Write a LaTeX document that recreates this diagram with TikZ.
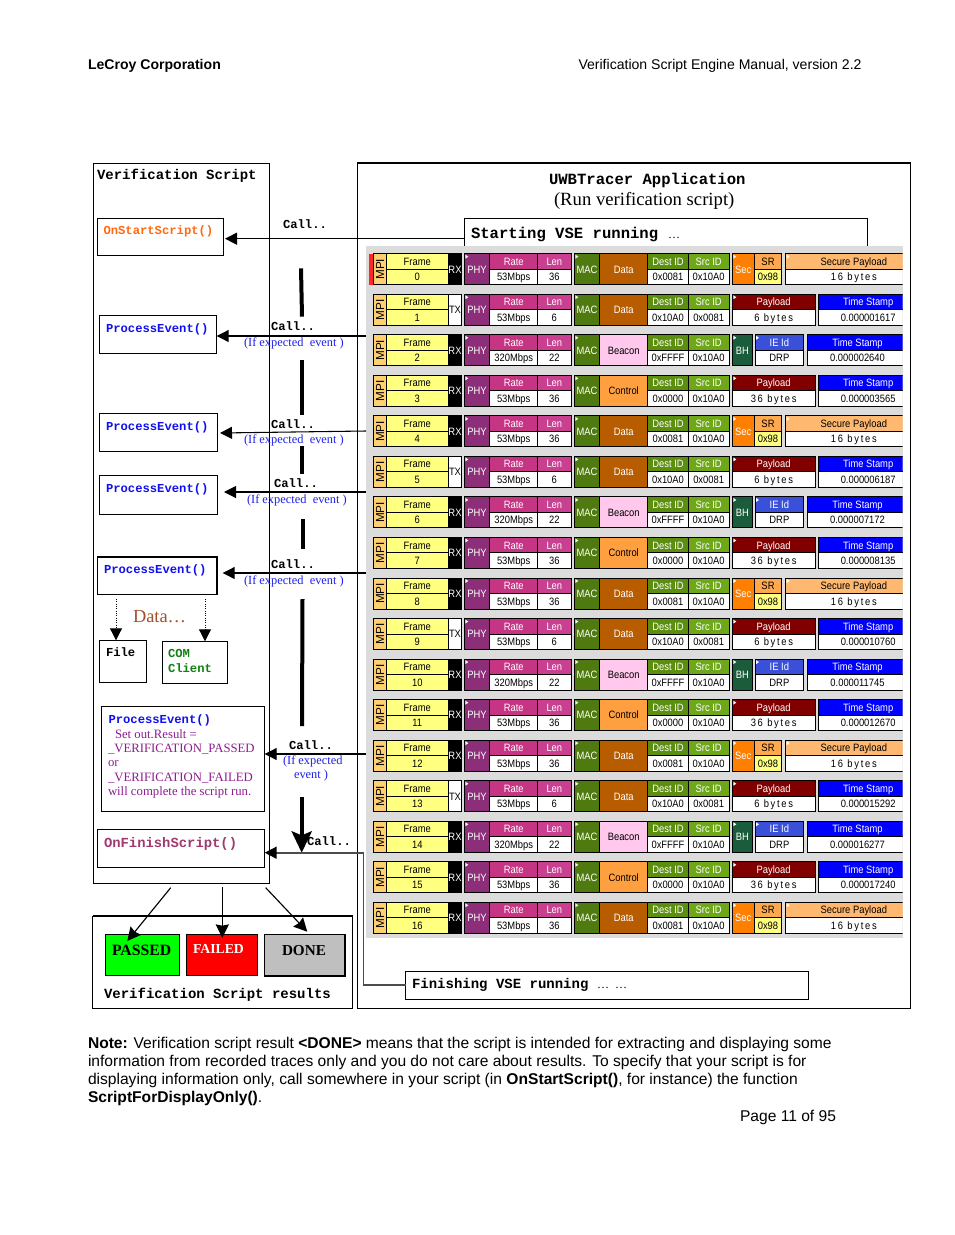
\documentclass[tikz,border=0pt]{standalone}
\usepackage{fontspec}
\setmainfont{Liberation Serif}
\setsansfont{Liberation Sans}
\setmonofont{Liberation Mono}
\newfontfamily\cellfam[FakeStretch=0.88]{Liberation Sans}
\usetikzlibrary{arrows.meta}
\definecolor{cMPI}{HTML}{FFD070}
\definecolor{cFrame}{HTML}{FFFF80}
\definecolor{cPHY}{HTML}{8C2F78}
\definecolor{cRate}{HTML}{C63484}
\definecolor{cLen}{HTML}{C8408F}
\definecolor{cMAC}{HTML}{4F7A10}
\definecolor{cData}{HTML}{B85C00}
\definecolor{cCtrl}{HTML}{FFA040}
\definecolor{cBeac}{HTML}{FFC8EC}
\definecolor{cDest}{HTML}{5C8E10}
\definecolor{cSrc}{HTML}{6EA818}
\definecolor{cSec}{HTML}{FF8000}
\definecolor{cSR}{HTML}{FFA84D}
\definecolor{cSP}{HTML}{FFB870}
\definecolor{cBH}{HTML}{1A5C3C}
\definecolor{cIE}{HTML}{3A50D8}
\definecolor{cPanel}{HTML}{DCDCDC}
\definecolor{cOnStart}{HTML}{FF6A10}
\definecolor{cPE}{HTML}{1010F0}
\definecolor{cFin}{HTML}{A0396E}
\definecolor{cPurple}{HTML}{8E1C8E}
\definecolor{cIf}{HTML}{2020E8}
\definecolor{cBrown}{HTML}{A0522D}
\definecolor{cGreen}{HTML}{108010}
\definecolor{cDk}{HTML}{800000}
\newcommand\fs[1]{\fontsize{#1}{#1}\selectfont}
\newcommand\cellfont{\cellfam\fs{8}}
\tikzset{
  x=0.75pt,y=-0.75pt,
  cell/.style={draw=black,line width=0.75pt,inner sep=0pt,outer sep=0pt,font=\cellfont,text height=5.7pt,text depth=0pt,align=center},
  box/.style={draw=black,line width=0.72pt,inner sep=0pt,outer sep=0pt,anchor=north west},
  lbl/.style={inner sep=0pt,outer sep=0pt,anchor=base west},
  callarrow/.style={draw=black,line width=0.8pt,-{Triangle[length=9pt,width=9pt]}},
  dotarrow/.style={draw=black,line width=0.75pt,densely dotted,-{Triangle[length=9pt,width=9pt,sep=0pt]}},
  resarrow/.style={draw=black,line width=0.85pt,-{Stealth[length=10pt,width=10pt,inset=1pt]}},
  thickseg/.style={draw=black,line width=3pt},
}
% rectangle node from pixel corners: name, style, x1, y1, x2, y2, text
\newcommand\bx[7]{\node[box,#2,minimum width={(#5-#3)*0.75pt},minimum height={(#6-#4)*0.75pt}] (#1) at (#3,#4) {#7};}
% table cell: name fill textcolour x1 x2 y1 y2 text (y relative to the row top \T)
\newcommand\cel[8]{\node[cell,fill=#2,text=#3,minimum width={(#5-#4)*0.75pt},minimum height={(#7-#6)*0.75pt}] (#1) at ({(#4+#5)/2},{\T+(#6+#7)/2}) {#8};}
\newcommand\tri[1]{\fill[white] (#1+1,\T+1) -- (#1+4,\T+3) -- (#1+1,\T+5) -- cycle;}
\newcommand\wide{\addfontfeature{LetterSpace=16}}
\newcommand\rowbase[9]{%
  \pgfmathsetmacro\T{253.7+40.54*#1}
  \cel{mpi#1}{cMPI}{black}{373}{386.3}{0}{31}{}
  \node[inner sep=0pt,rotate=90,font=\sffamily\fs{8.8},text height=6.3pt,text depth=0pt] at ({380},{\T+15.5}) {MPI};
  \cel{fh#1}{cFrame}{black}{386.3}{448.3}{0}{15.5}{Frame}
  \cel{fv#1}{cFrame}{black}{386.3}{448.3}{15.5}{31}{#1}
  \ifnum\pdfstrcmp{#2}{TX}=0
    \cel{dir#1}{white}{black}{448.3}{461.7}{0}{31}{TX}
  \else
    \cel{dir#1}{black}{white}{448.3}{461.7}{0}{31}{RX}
  \fi
  \cel{phy#1}{cPHY}{white}{464.3}{489.7}{0}{31}{PHY}\tri{464.3}
  \cel{rh#1}{cRate}{white}{489.7}{537.7}{0}{15.5}{Rate}
  \cel{rv#1}{white}{black}{489.7}{537.7}{15.5}{31}{#3}
  \cel{lh#1}{cLen}{white}{537.7}{571}{0}{15.5}{Len}
  \cel{lv#1}{white}{black}{537.7}{571}{15.5}{31}{#4}
  \cel{mac#1}{cMAC}{white}{574.3}{599.7}{0}{31}{MAC}\tri{574.3}
  \cel{typ#1}{#6}{#7}{599.7}{647.7}{0}{31}{#5}
  \cel{dh#1}{cDest}{white}{647.7}{688.3}{0}{15.5}{Dest ID}
  \cel{dv#1}{white}{black}{647.7}{688.3}{15.5}{31}{#8}
  \cel{sh#1}{cSrc}{white}{688.3}{729}{0}{15.5}{Src ID}
  \cel{sv#1}{white}{black}{688.3}{729}{15.5}{31}{#9}
}
\newcommand\stamp[4]{% row, stripe x, value, text shift
  \cel{tb#1}{blue}{white}{#2}{#2+6}{0}{31}{}\tri{#2}
  \cel{th#1}{blue}{white}{#2+6}{906}{0}{15.5}{\hspace*{#4}Time Stamp}
  \cel{tv#1}{white}{black}{#2+6}{906}{15.5}{31}{\hspace*{#4}#3}
}
\newcommand\secure[1]{%
  \rowbase{#1}{RX}{53Mbps}{36}{Data}{cData}{white}{0x0081}{0x10A0}
  \cel{sec#1}{cSec}{white}{732.3}{754.3}{0}{31}{Sec}\tri{732.3}
  \cel{srh#1}{cSR}{black}{754.3}{781.7}{0}{15.5}{SR}
  \cel{srv#1}{cFrame}{black}{754.3}{781.7}{15.5}{31}{0x98}
  \cel{sph#1}{cSP}{black}{785.7}{906}{0}{15.5}{\hspace*{12pt}Secure Payload}\tri{785.7}
  \cel{spv#1}{white}{black}{785.7}{906}{15.5}{31}{\hspace*{12pt}\wide 16 bytes}
}
\newcommand\payload[2]{% row, byte text
  \cel{ph#1}{cDk}{white}{732.3}{815}{0}{15.5}{Payload}\tri{732.3}
  \cel{pv#1}{white}{black}{732.3}{815}{15.5}{31}{\wide #2 bytes}
}
\newcommand\txrow[2]{%
  \rowbase{#1}{TX}{53Mbps}{6}{Data}{cData}{white}{0x10A0}{0x0081}
  \payload{#1}{6}\stamp{#1}{818.3}{#2}{4.5pt}
}
\newcommand\ctrlrow[2]{%
  \rowbase{#1}{RX}{53Mbps}{36}{Control}{cCtrl}{black}{0x0000}{0x10A0}
  \payload{#1}{36}\stamp{#1}{818.3}{#2}{4.5pt}
}
\newcommand\beacrow[2]{%
  \rowbase{#1}{RX}{320Mbps}{22}{Beacon}{cBeac}{black}{0xFFFF}{0x10A0}
  \cel{bh#1}{cBH}{white}{732.3}{752.3}{0}{31}{BH}\tri{732.3}
  \cel{ieh#1}{cIE}{white}{755}{803.7}{0}{15.5}{IE Id}\tri{755}
  \cel{iev#1}{white}{black}{755}{803.7}{15.5}{31}{DRP}
  \stamp{#1}{807}{#2}{-3pt}
}
\begin{document}
\begin{tikzpicture}
\fill[white] (0,0) rectangle (954,1235);
\useasboundingbox (0,0) rectangle (954,1235);
\def\T{0}
% page header
\node[lbl,font=\sffamily\bfseries\fs{10.55}] (hdl) at (88,69) {LeCroy Corporation};
\node[lbl,font=\sffamily\fs{10.55}] (hdr) at (578.5,69) {Verification Script Engine Manual, version 2.2};
% outer boxes
\bx{vs}{}{93.3}{163.3}{269.3}{883.5}{}
\bx{uwb}{}{357.3}{162.7}{910}{1008.3}{}
\draw[line width=1.5pt] (uwb.north west) -- (uwb.north east);
\node[lbl,font=\ttfamily\bfseries\fs{10.5}] (vst) at (97,179) {Verification Script};
\node[lbl,font=\ttfamily\bfseries\fs{11.7}] (uwbt) at (549,184) {UWBTracer Application};
\node[lbl,font=\fs{14}] (uwbs) at (554,205) {(Run verification script)};
% start box + panel
\bx{startbox}{}{464.3}{218}{867.3}{260}{}
\bx{panel}{fill=cPanel,draw=none}{366}{246}{902.5}{937.7}{}
\node[lbl,font=\ttfamily\bfseries\fs{11.7}] (startt) at (471,238) {Starting VSE running};
\node[lbl,font=\fs{9}] (startd) at (668,238) {…};
% table
\begin{scope}
\clip (366,246) rectangle (902.5,937.7);
\pgfmathsetmacro\T{253.7}
\fill[red!85!white] (369,\T) rectangle (373,\T+31.5);
\secure{0}
\txrow{1}{0.000001617}
\beacrow{2}{0.000002640}
\ctrlrow{3}{0.000003565}
\secure{4}
\txrow{5}{0.000006187}
\beacrow{6}{0.000007172}
\ctrlrow{7}{0.000008135}
\secure{8}
\txrow{9}{0.000010760}
\beacrow{10}{0.000011745}
\ctrlrow{11}{0.000012670}
\secure{12}
\txrow{13}{0.000015292}
\beacrow{14}{0.000016277}
\ctrlrow{15}{0.000017240}
\secure{16}
\end{scope}
% script boxes
\bx{onstart}{}{97.3}{218.3}{223.3}{255.3}{}
\bx{pe1}{}{99.3}{315.3}{216.7}{353.3}{}
\bx{pe2}{}{99.3}{413}{217}{451}{}
\bx{pe3}{}{99.3}{475}{217}{514}{}
\bx{pe4}{line width=1.2pt}{97.3}{556.7}{216.7}{594.3}{}
\bx{filebox}{}{99.3}{640.3}{146.7}{682.3}{}
\bx{combox}{}{162.3}{641.3}{227.7}{683.3}{}
\bx{pe5}{}{101.3}{706.3}{264.7}{811}{}
\bx{onfin}{}{97.3}{829.3}{264.7}{867.3}{}
\newcommand\pefont{\ttfamily\bfseries\fs{9.15}}
\node[lbl,font=\pefont,text=cOnStart] (t0) at (103.5,234) {OnStartScript()};
\node[lbl,font=\pefont,text=cPE] (t1) at (106,332) {ProcessEvent()};
\node[lbl,font=\pefont,text=cPE] (t2) at (106,430) {ProcessEvent()};
\node[lbl,font=\pefont,text=cPE] (t3) at (106,492) {ProcessEvent()};
\node[lbl,font=\pefont,text=cPE] (t4) at (104,573) {ProcessEvent()};
\node[lbl,font=\pefont] (tf) at (106,656) {File};
\node[lbl,font=\pefont,text=cGreen] (tc1) at (168,657) {COM};
\node[lbl,font=\pefont,text=cGreen] (tc2) at (168,672) {Client};
\node[lbl,font=\fs{13.8},text=cBrown] (tdata) at (133,622) {Data…};
\node[lbl,font=\pefont,text=cPE] (t5) at (108.5,723) {ProcessEvent()};
\node[lbl,font=\fs{9.55},text=cPurple] (p1) at (115,738) {Set out.Result =};
\node[lbl,font=\fs{9.55},text=cPurple] (p2) at (108,752) {\_VERIFICATION\_PASSED};
\node[lbl,font=\fs{9.55},text=cPurple] (p3) at (108,766) {or};
\node[lbl,font=\fs{9.55},text=cPurple] (p4) at (108,781) {\_VERIFICATION\_FAILED};
\node[lbl,font=\fs{9.55},text=cPurple] (p5) at (108,795) {will complete the script run.};
\node[lbl,font=\ttfamily\bfseries\fs{10.4},text=cFin] (t6) at (104,847) {OnFinishScript()};
% connectors
\coordinate (y0) at (300,238.7);
\coordinate (y1) at (366,336);
\coordinate (y2a) at (366,431);
\coordinate (y2b) at (220,433);
\coordinate (y3) at (366,492);
\coordinate (y4) at (366,573);
\coordinate (y5) at (366,754);
\draw[callarrow] (startbox.west |- y0) -- (225,238.7);
\draw[callarrow] (y1) -- (pe1.east |- y1);
\draw[callarrow] (y2a) -- (y2b);
\draw[callarrow,shorten >=7*0.75pt] (y3) -- (pe3.east |- y3);
\draw[callarrow,shorten >=6*0.75pt] (y4) -- (pe4.east |- y4);
\draw[callarrow] (y5) -- (pe5.east |- y5);
\draw[thickseg] (301,268.3) -- (302,316.7);
\draw[thickseg] (302,360) -- (302,415);
\draw[thickseg] (302,446) -- (302,474);
\draw[thickseg] (303,519) -- (303,549);
\draw[thickseg] (302.5,599) -- (302,726);
\draw[thickseg,-{Stealth[length=16pt,width=15pt,inset=3pt]},shorten >=0pt] (301.7,797) -- (301.7,852.7);
\coordinate (elbow) at (363.5,852.7);
\draw[dotarrow] (116,599) -- (filebox.north -| 116,0);
\draw[dotarrow] (205,599) -- (combox.north -| 205,0);
\node[lbl,font=\pefont] (c0) at (283,228) {Call..};
\node[lbl,font=\pefont] (c1) at (271,330) {Call..};
\node[lbl,font=\pefont] (c2) at (271,428) {Call..};
\node[lbl,font=\pefont] (c3) at (274,487) {Call..};
\node[lbl,font=\pefont] (c4) at (271,568) {Call..};
\node[lbl,font=\pefont] (c5) at (289,749) {Call..};
\node[lbl,font=\pefont] (c6) at (307,845) {Call..};
\node[lbl,font=\fs{9.3},text=cIf] (i1) at (244,346) {(If expected\ \ event )};
\node[lbl,font=\fs{9.3},text=cIf] (i2) at (244,443) {(If expected\ \ event )};
\node[lbl,font=\fs{9.3},text=cIf] (i3) at (247,503) {(If expected\ \ event )};
\node[lbl,font=\fs{9.3},text=cIf] (i4) at (244,584) {(If expected\ \ event )};
\node[lbl,font=\fs{9.3},text=cIf] (i5) at (283,764) {(If expected};
\node[lbl,font=\fs{9.3},text=cIf] (i6) at (294,778) {event )};
% finish
\bx{finbox}{fill=white}{405.7}{971}{808}{999.5}{}
\node[lbl,font=\ttfamily\bfseries\fs{10.5}] (fint) at (412,988.5) {Finishing VSE running};
\node[lbl,font=\fs{9}] (find) at (597,988.5) {…\ \ …};
\draw[draw=black!70,line width=1.2pt,-{Triangle[length=9pt,width=9pt,color=black]}] (finbox.west) -| (elbow) -- (onfin.east |- elbow);
% results
\bx{res}{}{92.7}{916}{352.7}{1008.3}{}
\draw[line width=1.5pt] (res.north west) -- (res.north east);
\bx{passed}{fill=green}{105.3}{934.3}{179.7}{975.3}{}
\bx{failed}{fill=red}{186.3}{934.3}{257.7}{975.3}{}
\bx{done}{fill=black!25,line width=1.2pt}{264.3}{934.3}{344.7}{976}{}
\node[lbl,font=\bfseries\fs{11.8}] (tp) at (112,955) {PASSED};
\node[lbl,font=\bfseries\fs{10.3},text=white] (tfa) at (193,953) {FAILED};
\node[lbl,font=\bfseries\fs{11.4}] (td) at (282,955) {DONE};
\node[lbl,font=\ttfamily\bfseries\fs{10.5}] (tr) at (104,998) {Verification Script results};
\coordinate (s1) at (170.7,887.7);
\coordinate (s2) at (222.3,887.3);
\coordinate (s3) at (265.7,887.7);
\draw[resarrow] (s1) -- (127.3,941);
\draw[resarrow] (s2) -- (222.3,937.7);
\draw[resarrow] (s3) -- (307.3,931.7);
% note
\newcommand\notefont{\sffamily\fs{11.7}}
\node[lbl,font=\notefont] (n1) at (88,1048) {\textbf{Note:} Verification script result \textbf{<DONE>} means that the script is intended for extracting and displaying some};
\node[lbl,font=\notefont] (n2) at (88,1066) {information from recorded traces only and you do not care about results. To specify that your script is for};
\node[lbl,font=\notefont] (n3) at (88,1084) {displaying information only, call somewhere in your script (in \textbf{OnStartScript()}, for instance) the function};
\node[lbl,font=\notefont] (n4) at (88,1102) {\textbf{ScriptForDisplayOnly()}.};
\node[lbl,font=\notefont] (pg) at (740,1121) {Page 11 of 95};
\end{tikzpicture}
\end{document}
